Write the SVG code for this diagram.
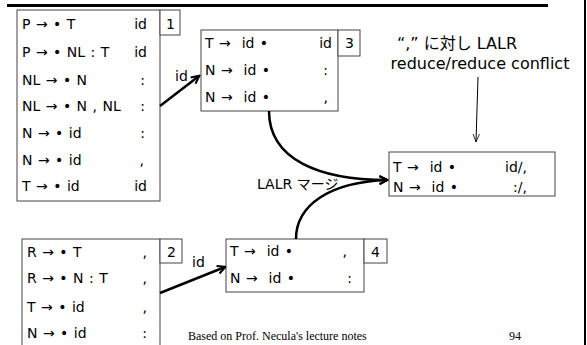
<svg xmlns="http://www.w3.org/2000/svg" width="587" height="345" viewBox="0 0 587 345">
<defs>
<style>
.box{fill:#fff;stroke:#444;stroke-width:1}
.t{font-family:"DejaVu Sans",Verdana,sans-serif;font-size:14px;fill:#000;word-spacing:1px}
.la{text-anchor:end}
.c{font-family:"DejaVu Sans","Noto Sans CJK JP",sans-serif;font-size:16px;fill:#000}
.c2{font-family:"DejaVu Sans","Noto Sans CJK JP",sans-serif;font-size:14px;fill:#000}
.foot{font-family:"Liberation Serif","Times New Roman",serif;font-size:12px;fill:#000}
.edge{fill:none;stroke:#000;stroke-width:2.5}
.thin{fill:none;stroke:#000;stroke-width:1}
</style>
<marker id="ah" viewBox="0 0 10 10" refX="8.5" refY="5" markerWidth="4" markerHeight="4" orient="auto" markerUnits="strokeWidth">
<path d="M1,1 L9,5 L1,9" fill="none" stroke="#000" stroke-width="2" stroke-linejoin="miter"/>
</marker>
<marker id="oa" viewBox="0 0 10 10" refX="10" refY="5" markerWidth="8" markerHeight="8" orient="auto" markerUnits="strokeWidth">
<path d="M0,1 L10,5 L0,9" fill="none" stroke="#000" stroke-width="1"/>
</marker>
</defs>
<rect width="587" height="345" fill="#fff"/>
<rect x="7" y="4" width="541" height="3" fill="#000"/>
<rect x="584" y="0" width="2" height="345" fill="#000"/>

<g id="state1">
<rect class="box" x="17" y="10" width="143" height="191"/>
<rect class="box" x="160" y="10" width="20" height="25"/>
<text class="t" x="166" y="29">1</text>
<text class="t" x="22" y="29">P → • T</text><text class="t la" x="147" y="29">id</text>
<text class="t" x="22" y="57">P → • NL : T</text><text class="t la" x="147" y="57">id</text>
<text class="t" x="22" y="85">NL → • N</text><text class="t la" x="145" y="85">:</text>
<text class="t" x="22" y="111">NL → • N , NL</text><text class="t la" x="145" y="111">:</text>
<text class="t" x="22" y="138">N → • id</text><text class="t la" x="145" y="138">:</text>
<text class="t" x="22" y="165">N → • id</text><text class="t la" x="144" y="165">,</text>
<text class="t" x="22" y="191">T → • id</text><text class="t la" x="147" y="191">id</text>
</g>

<g id="state2">
<rect class="box" x="22" y="239" width="138" height="110"/>
<rect class="box" x="160" y="239" width="22" height="24"/>
<text class="t" x="167" y="257">2</text>
<text class="t" x="27" y="257">R → • T</text><text class="t la" x="147" y="257">,</text>
<text class="t" x="27" y="283">R → • N : T</text><text class="t la" x="147" y="283">,</text>
<text class="t" x="27" y="312">T → • id</text><text class="t la" x="147" y="312">,</text>
<text class="t" x="27" y="338">N → • id</text><text class="t la" x="147" y="338">:</text>
</g>

<g id="state3">
<rect class="box" x="201" y="30" width="137" height="81"/>
<rect class="box" x="338" y="30" width="22" height="26"/>
<text class="t" x="345" y="48">3</text>
<text class="t" x="205" y="48" xml:space="preserve">T →  id •</text><text class="t la" x="332" y="48">id</text>
<text class="t" x="205" y="75" xml:space="preserve">N →  id •</text><text class="t la" x="328" y="75">:</text>
<text class="t" x="205" y="102" xml:space="preserve">N →  id •</text><text class="t la" x="328" y="102">,</text>
</g>

<g id="state4">
<rect class="box" x="226" y="239" width="138" height="53"/>
<rect class="box" x="364" y="239" width="23" height="24"/>
<text class="t" x="371" y="257">4</text>
<text class="t" x="230" y="256" xml:space="preserve">T →  id •</text><text class="t la" x="347" y="256">,</text>
<text class="t" x="230" y="283" xml:space="preserve">N →  id •</text><text class="t la" x="352" y="283">:</text>
</g>

<g id="merged">
<rect class="box" x="389" y="152" width="166" height="44"/>
<text class="t" x="393" y="172" xml:space="preserve">T →  id •</text><text class="t la" x="527" y="172">id/,</text>
<text class="t" x="393" y="192" xml:space="preserve">N →  id •</text><text class="t la" x="527" y="192">:/,</text>
</g>

<g id="conflict-note">
<text class="c" x="457" y="49" text-anchor="middle">“,” に対し LALR</text>
<text class="c" x="480" y="69" text-anchor="middle">reduce/reduce conflict</text>
</g>

<g id="connectors">
<path class="edge" d="M160,106 L199,76" marker-end="url(#ah)"/>
<text class="t" x="175" y="81">id</text>
<path class="edge" d="M160,293 L225,267" marker-end="url(#ah)"/>
<text class="t" x="192" y="267">id</text>
<path class="edge" d="M269,111 C269,160 320,180 387,180" marker-end="url(#ah)"/>
<path class="edge" d="M296,239 C296,205 330,182 387,180" marker-end="url(#ah)"/>
<text class="c2" x="257" y="189">LALR マージ</text>
<path class="thin" d="M478,77 L476,142" marker-end="url(#oa)"/>
</g>

<text class="foot" x="188" y="340">Based on Prof.  Necula's lecture notes</text>
<text class="foot" x="509" y="340">94</text>
</svg>
